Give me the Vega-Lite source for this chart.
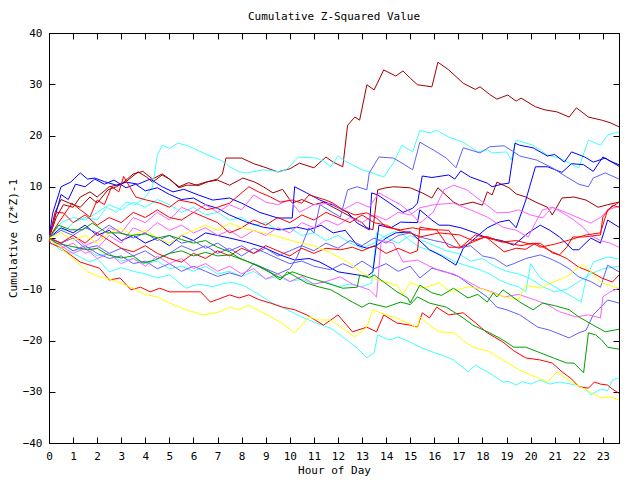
{
  "$schema": "https://vega.github.io/schema/vega-lite/v6.json",
  "width": 570,
  "height": 410,
  "autosize": {"type": "none"},
  "padding": {"left": 49, "top": 33, "right": 21, "bottom": 37},
  "background": "white",
  "title": {"text": "Cumulative Z-Squared Value", "font": "DejaVu Sans Mono", "fontSize": 11, "fontWeight": "normal", "color": "#000", "offset": 5},
  "config": {
    "view": {"stroke": "#000", "strokeWidth": 1},
    "axis": {"domainColor": "#000", "tickColor": "#000", "labelColor": "#000", "titleColor": "#000", "labelFont": "DejaVu Sans Mono", "titleFont": "DejaVu Sans Mono", "labelFontSize": 11, "titleFontSize": 11, "titleFontWeight": "normal", "grid": false, "tickSize": -6, "labelPadding": 13}
  },
  "layer": [
    {
      "data": {"name": "series", "values": [
{"s":"A","x":0,"y":0},{"s":"A","x":0.3,"y":4},{"s":"A","x":0.6,"y":6.5},{"s":"A","x":1,"y":6},{"s":"A","x":1.3,"y":8},{"s":"A","x":1.7,"y":9},{"s":"A","x":2,"y":8},{"s":"A","x":2.5,"y":10},{"s":"A","x":3,"y":10.5},{"s":"A","x":3.5,"y":12.5},{"s":"A","x":3.9,"y":13},{"s":"A","x":4.3,"y":11.5},{"s":"A","x":4.7,"y":12.5},{"s":"A","x":5,"y":11.5},{"s":"A","x":5.4,"y":10},{"s":"A","x":5.8,"y":10.8},{"s":"A","x":6.2,"y":10.2},{"s":"A","x":6.6,"y":11},{"s":"A","x":7,"y":11.5},{"s":"A","x":7.2,"y":12.5},{"s":"A","x":7.35,"y":15.6},{"s":"A","x":8,"y":15.6},{"s":"A","x":8.5,"y":14.5},{"s":"A","x":8.9,"y":13.9},{"s":"A","x":9.5,"y":12.9},{"s":"A","x":10,"y":13.5},{"s":"A","x":10.4,"y":14.6},{"s":"A","x":11,"y":13.7},{"s":"A","x":11.5,"y":15.8},{"s":"A","x":11.8,"y":14.8},{"s":"A","x":12.2,"y":13.9},{"s":"A","x":12.4,"y":22},{"s":"A","x":12.7,"y":23.6},{"s":"A","x":12.9,"y":23},{"s":"A","x":13.2,"y":29.9},{"s":"A","x":13.5,"y":28.9},{"s":"A","x":13.9,"y":32.8},{"s":"A","x":14.4,"y":31.6},{"s":"A","x":14.7,"y":32.6},{"s":"A","x":15,"y":31.2},{"s":"A","x":15.3,"y":29.9},{"s":"A","x":15.9,"y":29.5},{"s":"A","x":16.15,"y":34.3},{"s":"A","x":16.6,"y":32.8},{"s":"A","x":17.2,"y":30.2},{"s":"A","x":17.7,"y":29},{"s":"A","x":17.9,"y":29.5},{"s":"A","x":18.3,"y":28},{"s":"A","x":18.6,"y":27.1},{"s":"A","x":19.05,"y":27.9},{"s":"A","x":19.4,"y":26.7},{"s":"A","x":19.6,"y":27.3},{"s":"A","x":20.2,"y":25.6},{"s":"A","x":20.6,"y":25},{"s":"A","x":21.1,"y":24.6},{"s":"A","x":21.6,"y":23.6},{"s":"A","x":21.9,"y":25.4},{"s":"A","x":22.4,"y":23.6},{"s":"A","x":22.95,"y":23},{"s":"A","x":23.3,"y":22.5},{"s":"A","x":23.67,"y":21.7},
{"s":"B","x":0,"y":0},{"s":"B","x":0.25,"y":5},{"s":"B","x":0.5,"y":7.5},{"s":"B","x":1,"y":6.5},{"s":"B","x":1.3,"y":6},{"s":"B","x":1.7,"y":8},{"s":"B","x":2,"y":6.8},{"s":"B","x":2.45,"y":9.4},{"s":"B","x":2.8,"y":10},{"s":"B","x":3.2,"y":11},{"s":"B","x":3.7,"y":12.9},{"s":"B","x":4.05,"y":11.9},{"s":"B","x":4.3,"y":10.9},{"s":"B","x":4.7,"y":12.3},{"s":"B","x":5,"y":11.5},{"s":"B","x":5.4,"y":9.8},{"s":"B","x":5.7,"y":10.3},{"s":"B","x":6.1,"y":10.3},{"s":"B","x":6.5,"y":10.9},{"s":"B","x":7,"y":11.3},{"s":"B","x":7.5,"y":10.3},{"s":"B","x":8.05,"y":11.7},{"s":"B","x":8.55,"y":10.9},{"s":"B","x":8.9,"y":10},{"s":"B","x":9.3,"y":8.8},{"s":"B","x":9.7,"y":9.5},{"s":"B","x":10.1,"y":6.8},{"s":"B","x":10.5,"y":7.5},{"s":"B","x":11,"y":6.5},{"s":"B","x":11.4,"y":7},{"s":"B","x":11.8,"y":6},{"s":"B","x":12.2,"y":5},{"s":"B","x":12.6,"y":4},{"s":"B","x":13,"y":3},{"s":"B","x":13.2,"y":2},{"s":"B","x":13.45,"y":1.6},{"s":"B","x":13.65,"y":9.4},{"s":"B","x":14,"y":9.8},{"s":"B","x":14.3,"y":10},{"s":"B","x":15,"y":9.8},{"s":"B","x":15.5,"y":8.8},{"s":"B","x":15.9,"y":7.8},{"s":"B","x":16.15,"y":9.8},{"s":"B","x":16.8,"y":7},{"s":"B","x":17.05,"y":6.4},{"s":"B","x":17.6,"y":7},{"s":"B","x":18,"y":6.4},{"s":"B","x":18.2,"y":9},{"s":"B","x":18.4,"y":8.4},{"s":"B","x":18.6,"y":10.9},{"s":"B","x":19.1,"y":9.8},{"s":"B","x":19.4,"y":8.6},{"s":"B","x":19.8,"y":8},{"s":"B","x":20.3,"y":6.8},{"s":"B","x":20.7,"y":6},{"s":"B","x":20.9,"y":4.5},{"s":"B","x":21.3,"y":7.8},{"s":"B","x":21.8,"y":8},{"s":"B","x":22.3,"y":7.4},{"s":"B","x":22.8,"y":6},{"s":"B","x":23.2,"y":6.5},{"s":"B","x":23.67,"y":7},
{"s":"C1","x":0,"y":0},{"s":"C1","x":0.3,"y":2},{"s":"C1","x":0.7,"y":1.5},{"s":"C1","x":1,"y":3},{"s":"C1","x":1.5,"y":4},{"s":"C1","x":2,"y":3.5},{"s":"C1","x":2.4,"y":6},{"s":"C1","x":2.8,"y":5},{"s":"C1","x":3.2,"y":7},{"s":"C1","x":3.6,"y":6.5},{"s":"C1","x":4,"y":8},{"s":"C1","x":4.3,"y":10},{"s":"C1","x":4.5,"y":16.2},{"s":"C1","x":4.7,"y":18.1},{"s":"C1","x":5,"y":17.5},{"s":"C1","x":5.35,"y":18.5},{"s":"C1","x":5.7,"y":18.1},{"s":"C1","x":6,"y":17.5},{"s":"C1","x":6.6,"y":16.2},{"s":"C1","x":7.2,"y":15},{"s":"C1","x":7.5,"y":13.9},{"s":"C1","x":7.9,"y":12.9},{"s":"C1","x":8.2,"y":12.7},{"s":"C1","x":8.9,"y":13.3},{"s":"C1","x":9.6,"y":12.9},{"s":"C1","x":9.9,"y":13.5},{"s":"C1","x":10.35,"y":15.8},{"s":"C1","x":11.1,"y":15.6},{"s":"C1","x":11.4,"y":15},{"s":"C1","x":11.7,"y":13.9},{"s":"C1","x":12,"y":16},{"s":"C1","x":12.3,"y":15},{"s":"C1","x":13,"y":13.3},{"s":"C1","x":13.3,"y":12.9},{"s":"C1","x":13.9,"y":11.9},{"s":"C1","x":14.3,"y":14.6},{"s":"C1","x":14.65,"y":18.1},{"s":"C1","x":15.1,"y":16.8},{"s":"C1","x":15.4,"y":21},{"s":"C1","x":15.8,"y":20.5},{"s":"C1","x":16.1,"y":21},{"s":"C1","x":16.6,"y":19.7},{"s":"C1","x":17.2,"y":18.7},{"s":"C1","x":17.8,"y":16.8},{"s":"C1","x":18.2,"y":17.2},{"s":"C1","x":18.4,"y":16.6},{"s":"C1","x":19,"y":16.8},{"s":"C1","x":19.2,"y":15.2},{"s":"C1","x":19.4,"y":19.1},{"s":"C1","x":20.1,"y":18.1},{"s":"C1","x":20.7,"y":16.2},{"s":"C1","x":21.2,"y":15.6},{"s":"C1","x":21.9,"y":13.9},{"s":"C1","x":22,"y":13.7},{"s":"C1","x":22.4,"y":19.1},{"s":"C1","x":22.9,"y":18.1},{"s":"C1","x":23.2,"y":20.1},{"s":"C1","x":23.67,"y":20.7},
{"s":"C2","x":0,"y":0},{"s":"C2","x":0.5,"y":3},{"s":"C2","x":1,"y":4},{"s":"C2","x":1.5,"y":3.5},{"s":"C2","x":2,"y":5},{"s":"C2","x":2.5,"y":6.5},{"s":"C2","x":3,"y":5.5},{"s":"C2","x":3.5,"y":7},{"s":"C2","x":4,"y":6},{"s":"C2","x":4.5,"y":7.5},{"s":"C2","x":5,"y":6.5},{"s":"C2","x":5.5,"y":5},{"s":"C2","x":6,"y":6},{"s":"C2","x":6.5,"y":4.5},{"s":"C2","x":7,"y":5},{"s":"C2","x":7.5,"y":3.5},{"s":"C2","x":8,"y":4},{"s":"C2","x":8.5,"y":2.5},{"s":"C2","x":9,"y":3},{"s":"C2","x":9.5,"y":1.5},{"s":"C2","x":10,"y":2},{"s":"C2","x":10.5,"y":0.5},{"s":"C2","x":11,"y":1},{"s":"C2","x":11.5,"y":-0.5},{"s":"C2","x":12,"y":0.5},{"s":"C2","x":12.5,"y":-1},{"s":"C2","x":13,"y":-2},{"s":"C2","x":13.5,"y":-1},{"s":"C2","x":14,"y":0.5},{"s":"C2","x":14.5,"y":1.5},{"s":"C2","x":15,"y":-0.5},{"s":"C2","x":15.4,"y":-1.8},{"s":"C2","x":15.9,"y":-2.5},{"s":"C2","x":16.4,"y":-3.5},{"s":"C2","x":16.9,"y":-4.7},{"s":"C2","x":17.4,"y":-5.5},{"s":"C2","x":17.9,"y":-6.2},{"s":"C2","x":18.3,"y":-7},{"s":"C2","x":18.7,"y":-8.2},{"s":"C2","x":19.1,"y":-9},{"s":"C2","x":19.5,"y":-9.5},{"s":"C2","x":19.8,"y":-10.5},{"s":"C2","x":20,"y":-5},{"s":"C2","x":20.4,"y":-7.8},{"s":"C2","x":21,"y":-9.5},{"s":"C2","x":21.75,"y":-11.5},{"s":"C2","x":22.1,"y":-12.5},{"s":"C2","x":22.3,"y":-8},{"s":"C2","x":22.6,"y":-4.7},{"s":"C2","x":23.2,"y":-3.7},{"s":"C2","x":23.67,"y":-4.1},
{"s":"C3","x":0,"y":0},{"s":"C3","x":0.5,"y":-1},{"s":"C3","x":1,"y":-2.5},{"s":"C3","x":1.5,"y":-2},{"s":"C3","x":2,"y":-3.5},{"s":"C3","x":2.5,"y":-3},{"s":"C3","x":3,"y":-4.5},{"s":"C3","x":3.5,"y":-4},{"s":"C3","x":4,"y":-5},{"s":"C3","x":4.5,"y":-4.5},{"s":"C3","x":5,"y":-6},{"s":"C3","x":5.5,"y":-5.5},{"s":"C3","x":6,"y":-6.5},{"s":"C3","x":6.5,"y":-5.5},{"s":"C3","x":7,"y":-7},{"s":"C3","x":7.5,"y":-6.5},{"s":"C3","x":8,"y":-7.5},{"s":"C3","x":8.5,"y":-6.5},{"s":"C3","x":9,"y":-8},{"s":"C3","x":9.5,"y":-7.5},{"s":"C3","x":10,"y":-8.5},{"s":"C3","x":10.5,"y":-8},{"s":"C3","x":11,"y":-9},{"s":"C3","x":11.5,"y":-8.5},{"s":"C3","x":12,"y":-9.5},{"s":"C3","x":12.5,"y":-9},{"s":"C3","x":13,"y":-9.5},{"s":"C3","x":13.4,"y":-8.8},{"s":"C3","x":13.6,"y":1},{"s":"C3","x":14,"y":0},{"s":"C3","x":14.5,"y":-1},{"s":"C3","x":15,"y":0.5},{"s":"C3","x":15.5,"y":-0.5},{"s":"C3","x":16,"y":-1.5},{"s":"C3","x":16.5,"y":-2.5},{"s":"C3","x":17,"y":-3},{"s":"C3","x":17.5,"y":-4.5},{"s":"C3","x":18,"y":-4},{"s":"C3","x":18.5,"y":-5.5},{"s":"C3","x":19,"y":-6.5},{"s":"C3","x":19.5,"y":-7},{"s":"C3","x":20,"y":-8},{"s":"C3","x":20.5,"y":-9.5},{"s":"C3","x":21,"y":-10.5},{"s":"C3","x":21.5,"y":-10},{"s":"C3","x":22,"y":-8.5},{"s":"C3","x":22.5,"y":-7},{"s":"C3","x":23,"y":-6},{"s":"C3","x":23.67,"y":-5.5},
{"s":"C4","x":0,"y":0},{"s":"C4","x":0.45,"y":-2.3},{"s":"C4","x":1,"y":-3},{"s":"C4","x":1.7,"y":-4.7},{"s":"C4","x":2,"y":-4},{"s":"C4","x":2.5,"y":-6.6},{"s":"C4","x":3,"y":-5.8},{"s":"C4","x":3.5,"y":-6.5},{"s":"C4","x":4,"y":-7},{"s":"C4","x":4.5,"y":-7.8},{"s":"C4","x":5,"y":-7.2},{"s":"C4","x":5.7,"y":-9.8},{"s":"C4","x":6.2,"y":-9},{"s":"C4","x":6.8,"y":-9.5},{"s":"C4","x":7.5,"y":-8.6},{"s":"C4","x":8.05,"y":-9.2},{"s":"C4","x":8.6,"y":-10.7},{"s":"C4","x":9.2,"y":-12.5},{"s":"C4","x":9.9,"y":-14},{"s":"C4","x":10.5,"y":-15.4},{"s":"C4","x":11.1,"y":-16.6},{"s":"C4","x":11.7,"y":-17.6},{"s":"C4","x":12.2,"y":-19.3},{"s":"C4","x":12.8,"y":-21.5},{"s":"C4","x":13.2,"y":-23.4},{"s":"C4","x":13.5,"y":-22.4},{"s":"C4","x":13.65,"y":-18.9},{"s":"C4","x":14.15,"y":-19.9},{"s":"C4","x":14.5,"y":-19.3},{"s":"C4","x":15,"y":-20.3},{"s":"C4","x":15.4,"y":-21.3},{"s":"C4","x":15.9,"y":-22.2},{"s":"C4","x":16.4,"y":-23},{"s":"C4","x":16.8,"y":-23.8},{"s":"C4","x":17.4,"y":-26.1},{"s":"C4","x":17.7,"y":-24.8},{"s":"C4","x":18.2,"y":-26.1},{"s":"C4","x":18.85,"y":-28.1},{"s":"C4","x":19.1,"y":-28},{"s":"C4","x":19.4,"y":-28.7},{"s":"C4","x":19.65,"y":-28},{"s":"C4","x":20,"y":-28.5},{"s":"C4","x":20.4,"y":-27.7},{"s":"C4","x":20.8,"y":-28.5},{"s":"C4","x":21.2,"y":-28.1},{"s":"C4","x":21.9,"y":-28.7},{"s":"C4","x":22.3,"y":-29.5},{"s":"C4","x":22.5,"y":-30.6},{"s":"C4","x":22.9,"y":-29.5},{"s":"C4","x":23.2,"y":-29.8},{"s":"C4","x":23.4,"y":-27.7},{"s":"C4","x":23.67,"y":-27.3},
{"s":"Ba","x":0,"y":0},{"s":"Ba","x":0.15,"y":4.8},{"s":"Ba","x":0.5,"y":10},{"s":"Ba","x":0.9,"y":10.9},{"s":"Ba","x":1.3,"y":12.7},{"s":"Ba","x":1.6,"y":11.5},{"s":"Ba","x":1.9,"y":11.7},{"s":"Ba","x":2.3,"y":11},{"s":"Ba","x":2.8,"y":10.3},{"s":"Ba","x":3.2,"y":10.9},{"s":"Ba","x":3.7,"y":10.5},{"s":"Ba","x":4.2,"y":11.5},{"s":"Ba","x":4.7,"y":10},{"s":"Ba","x":5.15,"y":9},{"s":"Ba","x":5.6,"y":9.5},{"s":"Ba","x":6.2,"y":8.4},{"s":"Ba","x":6.8,"y":7.4},{"s":"Ba","x":7.5,"y":7.8},{"s":"Ba","x":8,"y":6.8},{"s":"Ba","x":8.75,"y":5},{"s":"Ba","x":9.5,"y":3.9},{"s":"Ba","x":10.1,"y":3.9},{"s":"Ba","x":10.2,"y":10},{"s":"Ba","x":10.7,"y":8.8},{"s":"Ba","x":11.25,"y":7.4},{"s":"Ba","x":11.8,"y":6.4},{"s":"Ba","x":12.4,"y":5},{"s":"Ba","x":12.8,"y":2.9},{"s":"Ba","x":13.3,"y":1.6},{"s":"Ba","x":13.4,"y":8.8},{"s":"Ba","x":13.65,"y":8.4},{"s":"Ba","x":14.15,"y":6.8},{"s":"Ba","x":14.7,"y":5},{"s":"Ba","x":15.1,"y":5.8},{"s":"Ba","x":15.3,"y":6.8},{"s":"Ba","x":15.5,"y":12.1},{"s":"Ba","x":15.9,"y":11.8},{"s":"Ba","x":16.6,"y":12.3},{"s":"Ba","x":16.85,"y":11.5},{"s":"Ba","x":17.1,"y":13.1},{"s":"Ba","x":17.5,"y":11.9},{"s":"Ba","x":18.2,"y":10.7},{"s":"Ba","x":18.4,"y":10},{"s":"Ba","x":18.8,"y":10.5},{"s":"Ba","x":19.1,"y":10.7},{"s":"Ba","x":19.35,"y":18.5},{"s":"Ba","x":19.55,"y":18.1},{"s":"Ba","x":20.1,"y":17.6},{"s":"Ba","x":20.7,"y":16},{"s":"Ba","x":21,"y":16.3},{"s":"Ba","x":21.4,"y":14.8},{"s":"Ba","x":21.7,"y":16.8},{"s":"Ba","x":22.25,"y":15.8},{"s":"Ba","x":22.6,"y":14.8},{"s":"Ba","x":23.1,"y":15.6},{"s":"Ba","x":23.67,"y":14},
{"s":"Bb","x":0,"y":0},{"s":"Bb","x":0.3,"y":5},{"s":"Bb","x":0.5,"y":8.5},{"s":"Bb","x":0.8,"y":7.5},{"s":"Bb","x":1.1,"y":10.5},{"s":"Bb","x":1.5,"y":10},{"s":"Bb","x":1.9,"y":11.5},{"s":"Bb","x":2.3,"y":10.5},{"s":"Bb","x":2.7,"y":11.3},{"s":"Bb","x":3.2,"y":9.8},{"s":"Bb","x":3.6,"y":10.5},{"s":"Bb","x":4,"y":9.2},{"s":"Bb","x":4.5,"y":9.8},{"s":"Bb","x":5,"y":8.5},{"s":"Bb","x":5.5,"y":7.5},{"s":"Bb","x":6,"y":7.8},{"s":"Bb","x":6.5,"y":6.5},{"s":"Bb","x":7,"y":5.8},{"s":"Bb","x":7.5,"y":4.5},{"s":"Bb","x":8.2,"y":3.1},{"s":"Bb","x":8.9,"y":2.1},{"s":"Bb","x":9.6,"y":1.6},{"s":"Bb","x":10.3,"y":2.1},{"s":"Bb","x":10.8,"y":1.6},{"s":"Bb","x":11.3,"y":2.5},{"s":"Bb","x":11.8,"y":1},{"s":"Bb","x":12.3,"y":1.5},{"s":"Bb","x":12.8,"y":-1.4},{"s":"Bb","x":13.2,"y":-2},{"s":"Bb","x":13.6,"y":-1.5},{"s":"Bb","x":14,"y":0},{"s":"Bb","x":14.4,"y":1},{"s":"Bb","x":15,"y":1.2},{"s":"Bb","x":15.5,"y":-1},{"s":"Bb","x":15.8,"y":-2.3},{"s":"Bb","x":16.3,"y":-3.5},{"s":"Bb","x":16.9,"y":-5.3},{"s":"Bb","x":17.2,"y":-2},{"s":"Bb","x":17.7,"y":0},{"s":"Bb","x":18.2,"y":2},{"s":"Bb","x":18.7,"y":3.1},{"s":"Bb","x":19.1,"y":3.5},{"s":"Bb","x":19.4,"y":2},{"s":"Bb","x":19.8,"y":7.4},{"s":"Bb","x":20.2,"y":13.9},{"s":"Bb","x":20.7,"y":13.9},{"s":"Bb","x":21.3,"y":12.8},{"s":"Bb","x":21.7,"y":14.5},{"s":"Bb","x":22.2,"y":14.3},{"s":"Bb","x":22.6,"y":13},{"s":"Bb","x":23,"y":15.8},{"s":"Bb","x":23.3,"y":15},{"s":"Bb","x":23.67,"y":14.3},
{"s":"Bd","x":0,"y":0},{"s":"Bd","x":0.5,"y":2},{"s":"Bd","x":1,"y":1},{"s":"Bd","x":1.5,"y":2.5},{"s":"Bd","x":2,"y":0.5},{"s":"Bd","x":2.5,"y":1.5},{"s":"Bd","x":3,"y":-0.5},{"s":"Bd","x":3.5,"y":0.5},{"s":"Bd","x":4,"y":-1},{"s":"Bd","x":4.5,"y":0},{"s":"Bd","x":5,"y":-1.5},{"s":"Bd","x":5.5,"y":0.5},{"s":"Bd","x":6,"y":-0.5},{"s":"Bd","x":6.5,"y":1},{"s":"Bd","x":7,"y":0.5},{"s":"Bd","x":7.5,"y":0},{"s":"Bd","x":8.2,"y":-0.8},{"s":"Bd","x":8.9,"y":-1.8},{"s":"Bd","x":9.6,"y":-3.3},{"s":"Bd","x":10.2,"y":-4.3},{"s":"Bd","x":10.8,"y":-4},{"s":"Bd","x":11.25,"y":-4.7},{"s":"Bd","x":12,"y":-6.6},{"s":"Bd","x":12.8,"y":-7.2},{"s":"Bd","x":13.2,"y":-7.5},{"s":"Bd","x":13.45,"y":-6.6},{"s":"Bd","x":13.7,"y":2.5},{"s":"Bd","x":14.2,"y":2},{"s":"Bd","x":14.6,"y":3.1},{"s":"Bd","x":15.3,"y":3},{"s":"Bd","x":15.4,"y":5.5},{"s":"Bd","x":15.9,"y":3.5},{"s":"Bd","x":16.2,"y":2.5},{"s":"Bd","x":16.6,"y":2.5},{"s":"Bd","x":17.1,"y":2},{"s":"Bd","x":17.7,"y":1},{"s":"Bd","x":18.2,"y":0},{"s":"Bd","x":18.8,"y":-0.5},{"s":"Bd","x":19.3,"y":-1.4},{"s":"Bd","x":19.9,"y":1},{"s":"Bd","x":20.4,"y":2.5},{"s":"Bd","x":20.8,"y":1.5},{"s":"Bd","x":21.2,"y":0.2},{"s":"Bd","x":21.75,"y":-2.3},{"s":"Bd","x":22,"y":-2.3},{"s":"Bd","x":22.5,"y":0},{"s":"Bd","x":22.9,"y":-1},{"s":"Bd","x":23.2,"y":3.5},{"s":"Bd","x":23.67,"y":2.1},
{"s":"S1","x":0,"y":0},{"s":"S1","x":0.5,"y":-1},{"s":"S1","x":1,"y":-2.5},{"s":"S1","x":1.5,"y":-1.5},{"s":"S1","x":2,"y":-3},{"s":"S1","x":2.5,"y":-4},{"s":"S1","x":3,"y":-3.5},{"s":"S1","x":3.5,"y":-5},{"s":"S1","x":4,"y":-4.5},{"s":"S1","x":4.5,"y":-6},{"s":"S1","x":5,"y":-5},{"s":"S1","x":5.5,"y":-6.5},{"s":"S1","x":6,"y":-5.5},{"s":"S1","x":6.5,"y":-6.5},{"s":"S1","x":7,"y":-7.5},{"s":"S1","x":7.5,"y":-6.8},{"s":"S1","x":8,"y":-7.5},{"s":"S1","x":8.5,"y":-5},{"s":"S1","x":9,"y":-6},{"s":"S1","x":9.5,"y":-7},{"s":"S1","x":10,"y":-6},{"s":"S1","x":10.3,"y":-3.7},{"s":"S1","x":10.8,"y":2},{"s":"S1","x":11,"y":1},{"s":"S1","x":11.25,"y":6.5},{"s":"S1","x":11.6,"y":5.5},{"s":"S1","x":12.1,"y":4.1},{"s":"S1","x":12.4,"y":9.4},{"s":"S1","x":12.8,"y":10},{"s":"S1","x":13.2,"y":9.4},{"s":"S1","x":13.3,"y":12.7},{"s":"S1","x":13.7,"y":15.8},{"s":"S1","x":14.3,"y":15.6},{"s":"S1","x":14.7,"y":14.5},{"s":"S1","x":15.1,"y":13.3},{"s":"S1","x":15.4,"y":18.7},{"s":"S1","x":15.95,"y":17.2},{"s":"S1","x":16.5,"y":15.6},{"s":"S1","x":16.9,"y":13.7},{"s":"S1","x":17.2,"y":17.6},{"s":"S1","x":17.9,"y":16.6},{"s":"S1","x":18.3,"y":17.8},{"s":"S1","x":18.9,"y":18},{"s":"S1","x":19.3,"y":16.8},{"s":"S1","x":19.55,"y":16},{"s":"S1","x":20.25,"y":15.2},{"s":"S1","x":20.9,"y":13.7},{"s":"S1","x":21.5,"y":11.9},{"s":"S1","x":22,"y":10.5},{"s":"S1","x":22.4,"y":10},{"s":"S1","x":22.6,"y":11.7},{"s":"S1","x":23.1,"y":12.7},{"s":"S1","x":23.67,"y":11.5},
{"s":"S2","x":0,"y":0},{"s":"S2","x":0.5,"y":1.5},{"s":"S2","x":1,"y":0.5},{"s":"S2","x":1.5,"y":2},{"s":"S2","x":2,"y":1},{"s":"S2","x":2.5,"y":2.5},{"s":"S2","x":3,"y":1},{"s":"S2","x":3.5,"y":0},{"s":"S2","x":4,"y":1},{"s":"S2","x":4.5,"y":-0.5},{"s":"S2","x":5,"y":0.5},{"s":"S2","x":5.5,"y":-1},{"s":"S2","x":6,"y":-0.5},{"s":"S2","x":6.5,"y":-2},{"s":"S2","x":7,"y":-1},{"s":"S2","x":7.5,"y":-2.5},{"s":"S2","x":8,"y":-1.5},{"s":"S2","x":8.5,"y":-3},{"s":"S2","x":9,"y":-2},{"s":"S2","x":9.5,"y":-3.5},{"s":"S2","x":10,"y":-2.5},{"s":"S2","x":10.5,"y":-1.5},{"s":"S2","x":11,"y":-2.5},{"s":"S2","x":11.5,"y":-1},{"s":"S2","x":12,"y":-2},{"s":"S2","x":12.5,"y":-0.5},{"s":"S2","x":13,"y":-1.5},{"s":"S2","x":13.5,"y":0},{"s":"S2","x":14,"y":-1},{"s":"S2","x":14.5,"y":0.5},{"s":"S2","x":15,"y":1},{"s":"S2","x":15.4,"y":0.2},{"s":"S2","x":16,"y":-0.5},{"s":"S2","x":16.5,"y":-1},{"s":"S2","x":17,"y":-2},{"s":"S2","x":17.5,"y":-1.5},{"s":"S2","x":18,"y":-3.5},{"s":"S2","x":18.5,"y":-4},{"s":"S2","x":19,"y":-5.5},{"s":"S2","x":19.3,"y":-5},{"s":"S2","x":19.8,"y":-4},{"s":"S2","x":20.4,"y":-3.3},{"s":"S2","x":20.8,"y":-4},{"s":"S2","x":21.2,"y":-4.9},{"s":"S2","x":21.6,"y":-6},{"s":"S2","x":22,"y":-7.6},{"s":"S2","x":22.5,"y":-8.5},{"s":"S2","x":22.9,"y":-9.6},{"s":"S2","x":23.2,"y":-5.3},{"s":"S2","x":23.67,"y":-6.6},
{"s":"S3","x":0,"y":0},{"s":"S3","x":0.5,"y":-1},{"s":"S3","x":1,"y":0},{"s":"S3","x":1.5,"y":-2},{"s":"S3","x":2,"y":-1.5},{"s":"S3","x":2.5,"y":-3},{"s":"S3","x":3,"y":-2},{"s":"S3","x":3.5,"y":-3.5},{"s":"S3","x":4,"y":-2.5},{"s":"S3","x":4.5,"y":-4},{"s":"S3","x":5,"y":-3},{"s":"S3","x":5.5,"y":-1.5},{"s":"S3","x":6,"y":-2.5},{"s":"S3","x":6.5,"y":-1.5},{"s":"S3","x":7,"y":-3},{"s":"S3","x":7.5,"y":-2},{"s":"S3","x":8,"y":-3.5},{"s":"S3","x":8.5,"y":-2},{"s":"S3","x":8.9,"y":-2.7},{"s":"S3","x":9.5,"y":-4},{"s":"S3","x":10,"y":-5},{"s":"S3","x":10.5,"y":-4.5},{"s":"S3","x":11,"y":-5.5},{"s":"S3","x":11.7,"y":-6.2},{"s":"S3","x":12.2,"y":-5},{"s":"S3","x":12.6,"y":-5.8},{"s":"S3","x":13,"y":-4.5},{"s":"S3","x":13.5,"y":-6},{"s":"S3","x":14,"y":-5},{"s":"S3","x":14.5,"y":-6.5},{"s":"S3","x":15,"y":-5.5},{"s":"S3","x":15.4,"y":-7.8},{"s":"S3","x":15.9,"y":-5.9},{"s":"S3","x":16.4,"y":-6.5},{"s":"S3","x":17,"y":-7.5},{"s":"S3","x":17.5,"y":-9.2},{"s":"S3","x":18.2,"y":-11.5},{"s":"S3","x":18.6,"y":-13.5},{"s":"S3","x":19,"y":-14},{"s":"S3","x":19.55,"y":-15},{"s":"S3","x":20.3,"y":-17.4},{"s":"S3","x":20.8,"y":-18},{"s":"S3","x":21.6,"y":-19.5},{"s":"S3","x":22,"y":-18.5},{"s":"S3","x":22.3,"y":-18},{"s":"S3","x":22.6,"y":-15},{"s":"S3","x":23.2,"y":-12.1},{"s":"S3","x":23.67,"y":-12.7},
{"s":"M1","x":0,"y":0},{"s":"M1","x":0.5,"y":-1},{"s":"M1","x":1,"y":0.5},{"s":"M1","x":1.5,"y":-1.5},{"s":"M1","x":2,"y":-0.5},{"s":"M1","x":2.5,"y":2},{"s":"M1","x":3,"y":1},{"s":"M1","x":3.5,"y":4},{"s":"M1","x":4,"y":3},{"s":"M1","x":4.5,"y":5},{"s":"M1","x":5,"y":3.5},{"s":"M1","x":5.5,"y":6},{"s":"M1","x":6,"y":5},{"s":"M1","x":6.5,"y":6.5},{"s":"M1","x":7,"y":5},{"s":"M1","x":7.5,"y":6.5},{"s":"M1","x":8,"y":5.5},{"s":"M1","x":8.5,"y":8.4},{"s":"M1","x":9,"y":7},{"s":"M1","x":9.5,"y":6.5},{"s":"M1","x":10,"y":7.5},{"s":"M1","x":10.4,"y":5},{"s":"M1","x":11,"y":6.5},{"s":"M1","x":11.7,"y":6.8},{"s":"M1","x":12.2,"y":5.5},{"s":"M1","x":12.8,"y":7},{"s":"M1","x":13.3,"y":6},{"s":"M1","x":13.7,"y":8.8},{"s":"M1","x":14.2,"y":7.5},{"s":"M1","x":14.6,"y":6.5},{"s":"M1","x":15,"y":5},{"s":"M1","x":15.4,"y":2.9},{"s":"M1","x":15.95,"y":5},{"s":"M1","x":16.4,"y":9.4},{"s":"M1","x":16.8,"y":10.3},{"s":"M1","x":17.35,"y":9.4},{"s":"M1","x":17.9,"y":7.4},{"s":"M1","x":18.6,"y":4.9},{"s":"M1","x":19.1,"y":5},{"s":"M1","x":19.5,"y":5.5},{"s":"M1","x":20,"y":4.5},{"s":"M1","x":20.5,"y":3.9},{"s":"M1","x":20.9,"y":6},{"s":"M1","x":21.3,"y":5},{"s":"M1","x":21.8,"y":3.5},{"s":"M1","x":22.2,"y":2},{"s":"M1","x":22.5,"y":0.5},{"s":"M1","x":22.9,"y":-0.5},{"s":"M1","x":23.3,"y":-1},{"s":"M1","x":23.67,"y":-1.8},
{"s":"M2","x":0,"y":0},{"s":"M2","x":0.5,"y":-2},{"s":"M2","x":1,"y":-1},{"s":"M2","x":1.5,"y":-3},{"s":"M2","x":2,"y":-2},{"s":"M2","x":2.5,"y":0.5},{"s":"M2","x":3,"y":-1},{"s":"M2","x":3.5,"y":2},{"s":"M2","x":4,"y":1},{"s":"M2","x":4.5,"y":3},{"s":"M2","x":5,"y":1.5},{"s":"M2","x":5.5,"y":2.5},{"s":"M2","x":6,"y":1},{"s":"M2","x":6.5,"y":2},{"s":"M2","x":7,"y":0.5},{"s":"M2","x":7.5,"y":1.5},{"s":"M2","x":8,"y":0},{"s":"M2","x":8.5,"y":1.5},{"s":"M2","x":9,"y":0.5},{"s":"M2","x":9.5,"y":2},{"s":"M2","x":10,"y":1},{"s":"M2","x":10.5,"y":3},{"s":"M2","x":11,"y":2},{"s":"M2","x":11.5,"y":3.5},{"s":"M2","x":12,"y":2.5},{"s":"M2","x":12.5,"y":4},{"s":"M2","x":13,"y":3},{"s":"M2","x":13.5,"y":4.5},{"s":"M2","x":14,"y":3.5},{"s":"M2","x":14.5,"y":5},{"s":"M2","x":15,"y":4.5},{"s":"M2","x":15.4,"y":5.9},{"s":"M2","x":16,"y":6.5},{"s":"M2","x":16.8,"y":6.8},{"s":"M2","x":17.5,"y":5.5},{"s":"M2","x":18.2,"y":4.1},{"s":"M2","x":18.85,"y":2.1},{"s":"M2","x":19.4,"y":1.5},{"s":"M2","x":19.9,"y":0.2},{"s":"M2","x":20.2,"y":3},{"s":"M2","x":20.5,"y":5.5},{"s":"M2","x":20.9,"y":6},{"s":"M2","x":21.2,"y":5.5},{"s":"M2","x":21.7,"y":4.5},{"s":"M2","x":22.2,"y":3.5},{"s":"M2","x":22.5,"y":2.9},{"s":"M2","x":22.9,"y":4},{"s":"M2","x":23.2,"y":5.5},{"s":"M2","x":23.67,"y":6.2},
{"s":"M3","x":0,"y":0},{"s":"M3","x":0.5,"y":-1.5},{"s":"M3","x":1,"y":-3},{"s":"M3","x":1.5,"y":-2},{"s":"M3","x":2,"y":-4},{"s":"M3","x":2.5,"y":-3},{"s":"M3","x":3,"y":-5},{"s":"M3","x":3.5,"y":-4},{"s":"M3","x":4,"y":-5.5},{"s":"M3","x":4.5,"y":-3.5},{"s":"M3","x":5,"y":-5},{"s":"M3","x":5.5,"y":-4},{"s":"M3","x":6,"y":-6},{"s":"M3","x":6.5,"y":-5},{"s":"M3","x":7,"y":-6.5},{"s":"M3","x":7.5,"y":-5.5},{"s":"M3","x":8,"y":-7},{"s":"M3","x":8.5,"y":-6},{"s":"M3","x":9,"y":-8},{"s":"M3","x":9.5,"y":-7},{"s":"M3","x":10,"y":-8.5},{"s":"M3","x":10.5,"y":-7.5},{"s":"M3","x":11,"y":-9},{"s":"M3","x":11.5,"y":-8.5},{"s":"M3","x":12.1,"y":-7.6},{"s":"M3","x":12.6,"y":-9},{"s":"M3","x":13.3,"y":-10.1},{"s":"M3","x":13.6,"y":-11.5},{"s":"M3","x":13.8,"y":-0.4},{"s":"M3","x":14.3,"y":-1},{"s":"M3","x":14.7,"y":-4.7},{"s":"M3","x":15.3,"y":-4.3},{"s":"M3","x":15.8,"y":-5.5},{"s":"M3","x":16.3,"y":-6.5},{"s":"M3","x":16.8,"y":-7},{"s":"M3","x":17.4,"y":-8.5},{"s":"M3","x":17.9,"y":-9.8},{"s":"M3","x":18.4,"y":-10.5},{"s":"M3","x":18.9,"y":-11.5},{"s":"M3","x":19.5,"y":-11},{"s":"M3","x":20.2,"y":-12.1},{"s":"M3","x":20.7,"y":-13},{"s":"M3","x":21.2,"y":-14.4},{"s":"M3","x":21.9,"y":-15.4},{"s":"M3","x":22.4,"y":-15},{"s":"M3","x":22.9,"y":-15.6},{"s":"M3","x":23,"y":-11.5},{"s":"M3","x":23.3,"y":-10.5},{"s":"M3","x":23.67,"y":-9.8},
{"s":"R1","x":0,"y":0},{"s":"R1","x":0.4,"y":3},{"s":"R1","x":0.95,"y":6.8},{"s":"R1","x":1.3,"y":5.5},{"s":"R1","x":1.7,"y":4.1},{"s":"R1","x":2,"y":7.4},{"s":"R1","x":2.3,"y":6.5},{"s":"R1","x":2.6,"y":10},{"s":"R1","x":2.9,"y":9},{"s":"R1","x":3.1,"y":12},{"s":"R1","x":3.6,"y":8},{"s":"R1","x":4.05,"y":7.4},{"s":"R1","x":4.6,"y":6.8},{"s":"R1","x":5,"y":6},{"s":"R1","x":5.4,"y":7.4},{"s":"R1","x":6.05,"y":6.8},{"s":"R1","x":6.55,"y":5.5},{"s":"R1","x":7,"y":6},{"s":"R1","x":7.5,"y":6.8},{"s":"R1","x":7.8,"y":8},{"s":"R1","x":8.3,"y":10},{"s":"R1","x":8.7,"y":9},{"s":"R1","x":9.2,"y":8},{"s":"R1","x":9.6,"y":7},{"s":"R1","x":10.1,"y":7.4},{"s":"R1","x":10.5,"y":6.8},{"s":"R1","x":10.8,"y":8.4},{"s":"R1","x":11.5,"y":7.4},{"s":"R1","x":11.8,"y":6.8},{"s":"R1","x":12.2,"y":5.5},{"s":"R1","x":12.7,"y":4.5},{"s":"R1","x":13.2,"y":4.9},{"s":"R1","x":13.6,"y":3.9},{"s":"R1","x":14,"y":2.1},{"s":"R1","x":14.6,"y":1.6},{"s":"R1","x":15.1,"y":2},{"s":"R1","x":15.5,"y":1.6},{"s":"R1","x":16.1,"y":1.6},{"s":"R1","x":16.6,"y":-1.8},{"s":"R1","x":17.1,"y":-1.8},{"s":"R1","x":17.7,"y":0.6},{"s":"R1","x":18.2,"y":0},{"s":"R1","x":18.9,"y":-2.7},{"s":"R1","x":19.4,"y":-2},{"s":"R1","x":19.8,"y":-2.2},{"s":"R1","x":20.2,"y":-1},{"s":"R1","x":20.9,"y":-2.7},{"s":"R1","x":21.5,"y":-4},{"s":"R1","x":22,"y":-5.7},{"s":"R1","x":22.5,"y":-6.6},{"s":"R1","x":22.95,"y":-7.8},{"s":"R1","x":23.4,"y":-8.6},{"s":"R1","x":23.67,"y":-7.2},
{"s":"R2","x":0,"y":0},{"s":"R2","x":0.5,"y":-1},{"s":"R2","x":1,"y":0.5},{"s":"R2","x":1.5,"y":-1},{"s":"R2","x":2,"y":1},{"s":"R2","x":2.5,"y":-0.5},{"s":"R2","x":3,"y":-2},{"s":"R2","x":3.5,"y":-2.7},{"s":"R2","x":4,"y":-1.5},{"s":"R2","x":4.5,"y":-3},{"s":"R2","x":5,"y":-4},{"s":"R2","x":5.5,"y":-4.7},{"s":"R2","x":6,"y":-3},{"s":"R2","x":6.5,"y":-4},{"s":"R2","x":7,"y":-2.5},{"s":"R2","x":7.5,"y":-3.5},{"s":"R2","x":8,"y":-2},{"s":"R2","x":8.5,"y":-3},{"s":"R2","x":9,"y":-1.5},{"s":"R2","x":9.5,"y":-2.5},{"s":"R2","x":10,"y":-3.5},{"s":"R2","x":10.5,"y":-2},{"s":"R2","x":11,"y":-3},{"s":"R2","x":11.5,"y":-2},{"s":"R2","x":12.1,"y":-2.3},{"s":"R2","x":12.6,"y":-1.8},{"s":"R2","x":13,"y":-2.5},{"s":"R2","x":13.5,"y":-1.5},{"s":"R2","x":14,"y":-3},{"s":"R2","x":14.5,"y":-2},{"s":"R2","x":15,"y":-3},{"s":"R2","x":15.3,"y":-2.5},{"s":"R2","x":15.4,"y":2.1},{"s":"R2","x":16.1,"y":1.6},{"s":"R2","x":16.6,"y":1.5},{"s":"R2","x":17.1,"y":-1.8},{"s":"R2","x":17.6,"y":-0.8},{"s":"R2","x":18.1,"y":0.2},{"s":"R2","x":18.6,"y":-0.5},{"s":"R2","x":19.1,"y":-1},{"s":"R2","x":19.6,"y":-1.5},{"s":"R2","x":20.1,"y":-1},{"s":"R2","x":20.4,"y":-1.8},{"s":"R2","x":21,"y":-1.2},{"s":"R2","x":21.6,"y":-0.4},{"s":"R2","x":22.3,"y":0.6},{"s":"R2","x":22.9,"y":1},{"s":"R2","x":23.2,"y":5.5},{"s":"R2","x":23.67,"y":7},
{"s":"R3","x":0,"y":0},{"s":"R3","x":0.3,"y":5},{"s":"R3","x":0.6,"y":4.9},{"s":"R3","x":1,"y":3},{"s":"R3","x":1.5,"y":4.5},{"s":"R3","x":2,"y":2.5},{"s":"R3","x":2.5,"y":4},{"s":"R3","x":3,"y":3},{"s":"R3","x":3.5,"y":5},{"s":"R3","x":4,"y":4},{"s":"R3","x":4.5,"y":5.5},{"s":"R3","x":5,"y":4},{"s":"R3","x":5.5,"y":3.5},{"s":"R3","x":6,"y":5},{"s":"R3","x":6.5,"y":4},{"s":"R3","x":7,"y":3},{"s":"R3","x":7.5,"y":1},{"s":"R3","x":8,"y":2},{"s":"R3","x":8.5,"y":3.5},{"s":"R3","x":9,"y":2.5},{"s":"R3","x":9.5,"y":4},{"s":"R3","x":10,"y":3},{"s":"R3","x":10.5,"y":4.5},{"s":"R3","x":11,"y":3.5},{"s":"R3","x":11.5,"y":5},{"s":"R3","x":12,"y":4},{"s":"R3","x":12.5,"y":3},{"s":"R3","x":13,"y":4.5},{"s":"R3","x":13.5,"y":3},{"s":"R3","x":14,"y":2.5},{"s":"R3","x":14.5,"y":1.5},{"s":"R3","x":15,"y":1},{"s":"R3","x":15.4,"y":0.2},{"s":"R3","x":16.2,"y":1},{"s":"R3","x":17.05,"y":0.6},{"s":"R3","x":17.6,"y":-0.5},{"s":"R3","x":18.2,"y":0.3},{"s":"R3","x":18.8,"y":-0.8},{"s":"R3","x":19.4,"y":-0.5},{"s":"R3","x":20,"y":-1.2},{"s":"R3","x":20.4,"y":-1},{"s":"R3","x":20.9,"y":-2.9},{"s":"R3","x":21.2,"y":-3.3},{"s":"R3","x":21.5,"y":-1.8},{"s":"R3","x":21.75,"y":0.2},{"s":"R3","x":22.2,"y":0.2},{"s":"R3","x":22.9,"y":0.6},{"s":"R3","x":23,"y":4.1},{"s":"R3","x":23.4,"y":6.4},{"s":"R3","x":23.67,"y":6},
{"s":"R4","x":0,"y":0},{"s":"R4","x":0.05,"y":-1},{"s":"R4","x":0.45,"y":-1.8},{"s":"R4","x":0.9,"y":-3.3},{"s":"R4","x":1.3,"y":-4.7},{"s":"R4","x":1.7,"y":-5.3},{"s":"R4","x":2.1,"y":-5.9},{"s":"R4","x":2.5,"y":-8.2},{"s":"R4","x":2.95,"y":-7.8},{"s":"R4","x":3.4,"y":-10.1},{"s":"R4","x":3.8,"y":-9.6},{"s":"R4","x":4.2,"y":-10.5},{"s":"R4","x":4.6,"y":-9.8},{"s":"R4","x":5,"y":-10.5},{"s":"R4","x":5.7,"y":-10.5},{"s":"R4","x":6.3,"y":-10.5},{"s":"R4","x":6.7,"y":-12.5},{"s":"R4","x":7,"y":-12},{"s":"R4","x":7.5,"y":-11.1},{"s":"R4","x":7.9,"y":-11.7},{"s":"R4","x":8.3,"y":-11.1},{"s":"R4","x":8.7,"y":-12},{"s":"R4","x":9.2,"y":-12.7},{"s":"R4","x":9.7,"y":-13.5},{"s":"R4","x":10.2,"y":-14},{"s":"R4","x":10.7,"y":-15},{"s":"R4","x":11.4,"y":-17},{"s":"R4","x":12,"y":-15},{"s":"R4","x":12.6,"y":-18.3},{"s":"R4","x":13.2,"y":-17.4},{"s":"R4","x":13.6,"y":-18.3},{"s":"R4","x":13.9,"y":-15},{"s":"R4","x":14.45,"y":-16.6},{"s":"R4","x":15,"y":-17},{"s":"R4","x":15.3,"y":-17.4},{"s":"R4","x":15.5,"y":-14.6},{"s":"R4","x":15.8,"y":-15.6},{"s":"R4","x":16.1,"y":-13.5},{"s":"R4","x":16.6,"y":-15},{"s":"R4","x":17.2,"y":-14.6},{"s":"R4","x":17.7,"y":-16.5},{"s":"R4","x":18.2,"y":-18.5},{"s":"R4","x":18.85,"y":-20.3},{"s":"R4","x":19.3,"y":-22},{"s":"R4","x":19.8,"y":-23.4},{"s":"R4","x":20.4,"y":-23.8},{"s":"R4","x":20.9,"y":-24.4},{"s":"R4","x":21.3,"y":-26.1},{"s":"R4","x":21.7,"y":-27.5},{"s":"R4","x":22,"y":-29},{"s":"R4","x":22.4,"y":-29.3},{"s":"R4","x":22.65,"y":-28.1},{"s":"R4","x":22.9,"y":-28.5},{"s":"R4","x":23.2,"y":-28.7},{"s":"R4","x":23.4,"y":-29.5},{"s":"R4","x":23.67,"y":-30.3},
{"s":"Y1","x":0,"y":0},{"s":"Y1","x":0.5,"y":1},{"s":"Y1","x":1,"y":-0.5},{"s":"Y1","x":1.5,"y":0.5},{"s":"Y1","x":2,"y":-1},{"s":"Y1","x":2.5,"y":1},{"s":"Y1","x":3,"y":1.9},{"s":"Y1","x":3.5,"y":0.5},{"s":"Y1","x":4,"y":1.5},{"s":"Y1","x":4.5,"y":0},{"s":"Y1","x":5,"y":-1},{"s":"Y1","x":5.5,"y":0.5},{"s":"Y1","x":6,"y":1.5},{"s":"Y1","x":6.5,"y":2.5},{"s":"Y1","x":7,"y":1.5},{"s":"Y1","x":7.5,"y":2.9},{"s":"Y1","x":8,"y":2},{"s":"Y1","x":8.9,"y":1},{"s":"Y1","x":9.5,"y":0.3},{"s":"Y1","x":10.3,"y":-0.8},{"s":"Y1","x":11,"y":-1.5},{"s":"Y1","x":11.7,"y":-2.9},{"s":"Y1","x":12.4,"y":-4.7},{"s":"Y1","x":13,"y":-6.8},{"s":"Y1","x":13.65,"y":-8.2},{"s":"Y1","x":14.45,"y":-9.2},{"s":"Y1","x":14.7,"y":-11},{"s":"Y1","x":15,"y":-8.6},{"s":"Y1","x":15.5,"y":-9.8},{"s":"Y1","x":16.2,"y":-8.8},{"s":"Y1","x":16.7,"y":-10.5},{"s":"Y1","x":17.4,"y":-9.5},{"s":"Y1","x":18,"y":-10},{"s":"Y1","x":18.6,"y":-11},{"s":"Y1","x":19.1,"y":-11.7},{"s":"Y1","x":19.5,"y":-12},{"s":"Y1","x":19.8,"y":-9.2},{"s":"Y1","x":20.4,"y":-9.8},{"s":"Y1","x":21,"y":-8.5},{"s":"Y1","x":21.5,"y":-7.5},{"s":"Y1","x":22,"y":-5.7},{"s":"Y1","x":22.2,"y":-5.3},{"s":"Y1","x":22.6,"y":-7},{"s":"Y1","x":22.9,"y":-8.6},{"s":"Y1","x":23.3,"y":-9.3},{"s":"Y1","x":23.67,"y":-9.8},
{"s":"Y2","x":0,"y":0},{"s":"Y2","x":0.5,"y":-2},{"s":"Y2","x":1,"y":-4},{"s":"Y2","x":1.6,"y":-6.6},{"s":"Y2","x":2.1,"y":-7.6},{"s":"Y2","x":2.5,"y":-8},{"s":"Y2","x":2.95,"y":-8.8},{"s":"Y2","x":3.5,"y":-9.8},{"s":"Y2","x":4.05,"y":-11.1},{"s":"Y2","x":4.5,"y":-11.5},{"s":"Y2","x":5,"y":-12.7},{"s":"Y2","x":5.7,"y":-14},{"s":"Y2","x":6.4,"y":-15},{"s":"Y2","x":7,"y":-14.5},{"s":"Y2","x":7.5,"y":-13.5},{"s":"Y2","x":7.9,"y":-14},{"s":"Y2","x":8.3,"y":-13.1},{"s":"Y2","x":8.9,"y":-14.6},{"s":"Y2","x":9.6,"y":-16.4},{"s":"Y2","x":10.2,"y":-18.5},{"s":"Y2","x":10.8,"y":-15.4},{"s":"Y2","x":11.2,"y":-16},{"s":"Y2","x":11.7,"y":-16},{"s":"Y2","x":12.2,"y":-17.6},{"s":"Y2","x":12.7,"y":-19.3},{"s":"Y2","x":13.2,"y":-17.4},{"s":"Y2","x":13.45,"y":-14},{"s":"Y2","x":14,"y":-15},{"s":"Y2","x":14.5,"y":-15.8},{"s":"Y2","x":15,"y":-16.8},{"s":"Y2","x":15.3,"y":-17.6},{"s":"Y2","x":15.4,"y":-15.4},{"s":"Y2","x":15.8,"y":-17},{"s":"Y2","x":16.2,"y":-18.3},{"s":"Y2","x":16.8,"y":-18.5},{"s":"Y2","x":17.2,"y":-20},{"s":"Y2","x":17.6,"y":-21.3},{"s":"Y2","x":18.2,"y":-22},{"s":"Y2","x":18.85,"y":-23.8},{"s":"Y2","x":19.55,"y":-25.8},{"s":"Y2","x":20.2,"y":-27.1},{"s":"Y2","x":20.7,"y":-28.1},{"s":"Y2","x":21.1,"y":-26.1},{"s":"Y2","x":21.5,"y":-27.5},{"s":"Y2","x":21.9,"y":-28.7},{"s":"Y2","x":22.35,"y":-29.7},{"s":"Y2","x":22.9,"y":-31.2},{"s":"Y2","x":23.3,"y":-31},{"s":"Y2","x":23.67,"y":-31.6},
{"s":"G1","x":0,"y":0},{"s":"G1","x":0.4,"y":2.5},{"s":"G1","x":0.9,"y":1.6},{"s":"G1","x":1.4,"y":1.6},{"s":"G1","x":1.8,"y":2.9},{"s":"G1","x":2.4,"y":1},{"s":"G1","x":2.9,"y":1},{"s":"G1","x":3.4,"y":0.5},{"s":"G1","x":4,"y":0.8},{"s":"G1","x":4.5,"y":0},{"s":"G1","x":5,"y":0.5},{"s":"G1","x":5.5,"y":-0.3},{"s":"G1","x":6,"y":-1},{"s":"G1","x":6.5,"y":-0.5},{"s":"G1","x":7,"y":-1.8},{"s":"G1","x":7.5,"y":-2.7},{"s":"G1","x":7.9,"y":-3.9},{"s":"G1","x":8.6,"y":-5.3},{"s":"G1","x":9.2,"y":-6.8},{"s":"G1","x":9.6,"y":-8.2},{"s":"G1","x":9.9,"y":-6.6},{"s":"G1","x":10.7,"y":-8.8},{"s":"G1","x":11.25,"y":-9.6},{"s":"G1","x":11.7,"y":-10.1},{"s":"G1","x":12.6,"y":-12.5},{"s":"G1","x":13,"y":-13.5},{"s":"G1","x":13.3,"y":-12.7},{"s":"G1","x":14,"y":-13.5},{"s":"G1","x":14.6,"y":-12.5},{"s":"G1","x":15,"y":-13},{"s":"G1","x":15.3,"y":-11.5},{"s":"G1","x":15.8,"y":-12.7},{"s":"G1","x":16.5,"y":-13.5},{"s":"G1","x":17.2,"y":-15.6},{"s":"G1","x":17.6,"y":-17},{"s":"G1","x":18.3,"y":-18.5},{"s":"G1","x":18.85,"y":-19.9},{"s":"G1","x":19.3,"y":-21.3},{"s":"G1","x":19.8,"y":-21.3},{"s":"G1","x":20.4,"y":-22.4},{"s":"G1","x":21,"y":-23.5},{"s":"G1","x":21.5,"y":-24.4},{"s":"G1","x":21.8,"y":-24.4},{"s":"G1","x":22.2,"y":-26.3},{"s":"G1","x":22.4,"y":-18.5},{"s":"G1","x":22.7,"y":-18.9},{"s":"G1","x":22.95,"y":-19.9},{"s":"G1","x":23.2,"y":-21.3},{"s":"G1","x":23.67,"y":-21.7},
{"s":"G2","x":0,"y":0},{"s":"G2","x":0.3,"y":-1},{"s":"G2","x":0.8,"y":-1.5},{"s":"G2","x":1.6,"y":-2.3},{"s":"G2","x":2,"y":-2},{"s":"G2","x":2.45,"y":-3.3},{"s":"G2","x":3,"y":-3.9},{"s":"G2","x":3.5,"y":-3.5},{"s":"G2","x":3.9,"y":-4.9},{"s":"G2","x":4.4,"y":-4.3},{"s":"G2","x":5,"y":-3},{"s":"G2","x":5.5,"y":-2.5},{"s":"G2","x":6,"y":-3.5},{"s":"G2","x":6.5,"y":-2.8},{"s":"G2","x":7,"y":-3.5},{"s":"G2","x":7.5,"y":-3.3},{"s":"G2","x":8.2,"y":-4.5},{"s":"G2","x":8.9,"y":-5.9},{"s":"G2","x":9.6,"y":-7.8},{"s":"G2","x":10.1,"y":-6.6},{"s":"G2","x":10.7,"y":-7.6},{"s":"G2","x":11.2,"y":-8.3},{"s":"G2","x":11.8,"y":-9.2},{"s":"G2","x":12.2,"y":-9.8},{"s":"G2","x":12.8,"y":-9.6},{"s":"G2","x":12.9,"y":-7.2},{"s":"G2","x":13.3,"y":-7.8},{"s":"G2","x":13.5,"y":-7.2},{"s":"G2","x":13.9,"y":-8.6},{"s":"G2","x":14.45,"y":-10.5},{"s":"G2","x":14.9,"y":-11.7},{"s":"G2","x":15,"y":-12.7},{"s":"G2","x":15.4,"y":-9.2},{"s":"G2","x":15.9,"y":-10.7},{"s":"G2","x":16.3,"y":-11.2},{"s":"G2","x":16.8,"y":-9.8},{"s":"G2","x":17.4,"y":-11.7},{"s":"G2","x":17.8,"y":-11},{"s":"G2","x":18.2,"y":-12.5},{"s":"G2","x":18.45,"y":-10.7},{"s":"G2","x":18.6,"y":-11.5},{"s":"G2","x":18.85,"y":-10.1},{"s":"G2","x":19.55,"y":-12.5},{"s":"G2","x":20.1,"y":-14},{"s":"G2","x":20.5,"y":-12.7},{"s":"G2","x":21,"y":-13.2},{"s":"G2","x":21.6,"y":-14},{"s":"G2","x":22,"y":-15.4},{"s":"G2","x":22.6,"y":-17},{"s":"G2","x":23.1,"y":-18.3},{"s":"G2","x":23.67,"y":-17.8}
      ]},
      "mark": {"type": "line", "strokeWidth": 1, "clip": true},
      "encoding": {
        "x": {"field": "x", "type": "quantitative", "scale": {"domain": [0, 23.67], "nice": false, "zero": false},
              "axis": {"values": [0,1,2,3,4,5,6,7,8,9,10,11,12,13,14,15,16,17,18,19,20,21,22,23], "title": "Hour of Day", "titlePadding": 3, "labelFlush": false}},
        "y": {"field": "y", "type": "quantitative", "scale": {"domain": [-40, 40], "nice": false, "zero": false},
              "axis": {"values": [-40,-30,-20,-10,0,10,20,30,40], "title": "Cumulative (Z*Z)-1", "titlePadding": 4}},
        "color": {"field": "s", "type": "nominal", "legend": null,
                  "scale": {"domain": ["A","B","C1","C2","C3","C4","Ba","Bb","Bd","S1","S2","S3","M1","M2","M3","R1","R2","R3","R4","Y1","Y2","G1","G2"],
                            "range": ["#a00000","#a00000","#40ffff","#40ffff","#40ffff","#40ffff","#0000ff","#0000ff","#0000ff","#6060ff","#6060ff","#6060ff","#ff60ff","#ff60ff","#ff60ff","#ff0000","#ff0000","#ff0000","#ff0000","#ffff00","#ffff00","#00a000","#00a000"]}}
      }
    },
    {
      "data": {"values": [{"x": 0, "y": 0}]},
      "mark": {"type": "point", "opacity": 0},
      "encoding": {
        "x": {"field": "x", "type": "quantitative", "axis": {"orient": "top", "values": [0,1,2,3,4,5,6,7,8,9,10,11,12,13,14,15,16,17,18,19,20,21,22,23], "labels": false, "title": null}},
        "y": {"field": "y", "type": "quantitative", "axis": {"orient": "right", "values": [-40,-30,-20,-10,0,10,20,30,40], "labels": false, "title": null}}
      }
    }
  ],
  "resolve": {"axis": {"x": "independent", "y": "independent"}}
}
